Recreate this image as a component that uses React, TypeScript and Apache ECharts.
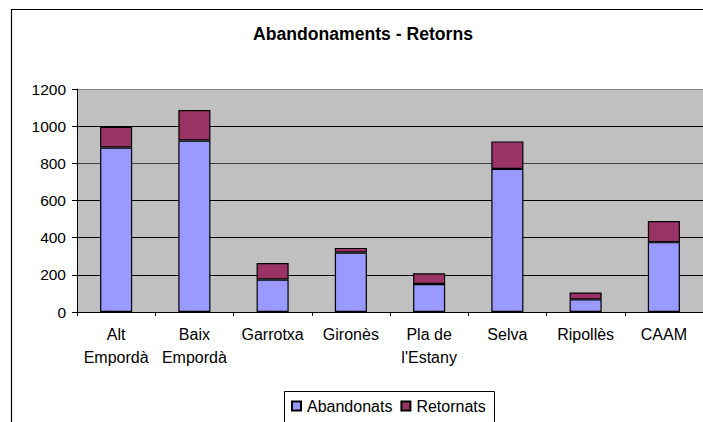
import React, { useEffect, useRef } from "react";
import * as echarts from "echarts";

const categories = ["Alt\nEmpordà", "Baix\nEmpordà", "Garrotxa", "Gironès", "Pla de\nl'Estany", "Selva", "Ripollès", "CAAM"];
const abandonats = [885, 923, 175, 320, 151, 770, 68, 376];
const retornats = [112, 164, 89, 25, 57, 148, 37, 114];
const seriesNames = ["Abandonats", "Retornats"];
const titleText = "Abandonaments - Retorns";

const FONT = "'Liberation Sans', Arial, sans-serif";

export default function App() {
  const ref = useRef<HTMLDivElement>(null);
  useEffect(() => {
    document.body.style.margin = "0";
    if (!ref.current) return;
    const chart = echarts.init(ref.current, null, { renderer: "svg" });
    chart.setOption({
      animation: false,
      backgroundColor: "#ffffff",
      textStyle: { fontFamily: FONT },
      title: {
        text: titleText,
        left: 253,
        top: 25,
        padding: 0,
        textStyle: { fontFamily: FONT, fontSize: 17.6, fontWeight: "bold", color: "#000" },
      },
      graphic: [
        {
          type: "rect",
          z: -10,
          shape: { x: 11.5, y: 9.5, width: 720, height: 440 },
          style: { fill: "none", stroke: "#000", lineWidth: 1.2 },
        },
        {
          type: "rect",
          z: -5,
          shape: { x: 284.5, y: 391.5, width: 210, height: 50 },
          style: { fill: "#fff", stroke: "#000", lineWidth: 1 },
        },
      ],
      legend: {
        data: seriesNames,
        left: 291,
        top: 398,
        padding: 0,
        itemGap: 8,
        itemWidth: 9,
        itemHeight: 9,
        icon: "rect",
        textStyle: { fontFamily: FONT, fontSize: 16, color: "#000", padding: [0, 0, 0, 1], lineHeight: 16 },
      },
      grid: {
        left: 77,
        right: 0,
        top: 89,
        bottom: 110,
        show: true,
        backgroundColor: "#C0C0C0",
        borderWidth: 0,
      },
      xAxis: {
        type: "category",
        data: categories,
        axisLine: { show: true, lineStyle: { color: "#000", width: 1 } },
        axisTick: { show: true, length: 4, lineStyle: { color: "#000" } },
        axisLabel: {
          interval: 0,
          margin: 11,
          fontFamily: FONT,
          fontSize: 16,
          lineHeight: 23,
          color: "#000",
        },
      },
      yAxis: {
        type: "value",
        min: 0,
        max: 1200,
        interval: 200,
        axisLine: { show: true, lineStyle: { color: "#000", width: 1 } },
        axisTick: { show: true, length: 5, lineStyle: { color: "#000" } },
        axisLabel: {
          margin: 11,
          fontFamily: FONT,
          fontSize: 15.5,
          color: "#000",
          formatter: (v: number) => String(v),
        },
        splitLine: {
          show: true,
          lineStyle: { color: ["#000", "#000", "#000", "#000", "#404040", "#000", "#808080"], width: 1 },
        },
      },
      series: [
        {
          name: seriesNames[0],
          type: "bar",
          stack: "total",
          data: abandonats,
          barWidth: "41%",
          itemStyle: { color: "#9999FF", borderColor: "#000", borderWidth: 1.2 },
        },
        {
          name: seriesNames[1],
          type: "bar",
          stack: "total",
          data: retornats,
          barWidth: "41%",
          itemStyle: { color: "#993366", borderColor: "#000", borderWidth: 1.2 },
        },
      ],
    });
    return () => chart.dispose();
  }, []);
  return <div ref={ref} style={{ width: 703, height: 422 }} />;
}
